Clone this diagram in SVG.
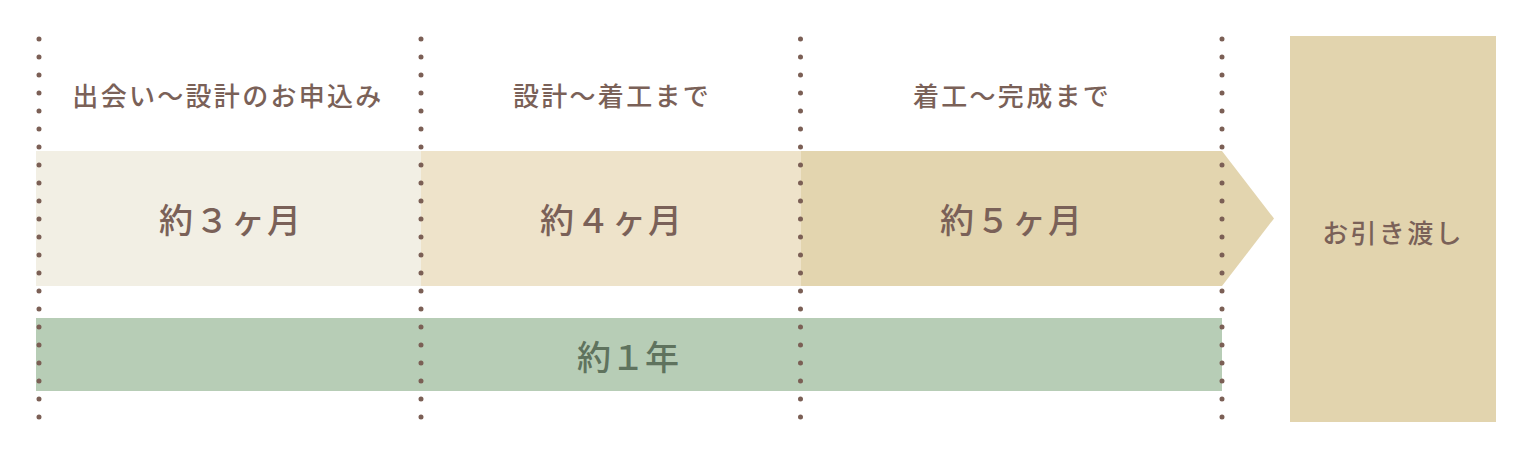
<svg xmlns="http://www.w3.org/2000/svg" width="1532" height="458" viewBox="0 0 1532 458">
  <style>
    .lbl { font-family: "Noto Sans CJK JP", "Noto Sans", sans-serif; font-size: 26px; font-weight: 500; fill: #7A6158; text-anchor: middle; letter-spacing: 2.3px; }
    .big { font-family: "Noto Sans CJK JP", "Noto Sans", sans-serif; font-size: 34px; font-weight: 500; fill: #7A6158; text-anchor: middle; letter-spacing: 2px; }
    .yr { font-family: "Noto Sans CJK JP", "Noto Sans", sans-serif; font-size: 34px; font-weight: 500; fill: #5F735E; text-anchor: middle; }
    .dots { stroke: #7B5F55; stroke-width: 5; stroke-linecap: round; stroke-dasharray: 0 18; fill: none; }
  </style>
  <rect width="1532" height="458" fill="#FFFFFF"/>

  <g id="phase1">
    <rect x="36" y="151" width="385" height="135" fill="#F2EFE4"/>
    <text class="lbl" x="228" y="106">出会い～設計のお申込み</text>
    <text class="big" x="231" y="233">約３ヶ月</text>
  </g>

  <g id="phase2">
    <rect x="421" y="151" width="380" height="135" fill="#EEE3CA"/>
    <text class="lbl" x="612" y="106">設計～着工まで</text>
    <text class="big" x="612" y="233">約４ヶ月</text>
  </g>

  <g id="phase3">
    <polygon points="801,151 1222,151 1274,218.5 1222,286 801,286" fill="#E3D5AF"/>
    <text class="lbl" x="1012" y="106">着工～完成まで</text>
    <text class="big" x="1012" y="233">約５ヶ月</text>
  </g>

  <g id="total">
    <rect x="36" y="318" width="1186" height="73" fill="#B7CDB6"/>
    <text class="yr" x="628" y="370">約１年</text>
  </g>

  <g id="handover">
    <rect x="1290" y="36" width="206" height="386" fill="#E2D4AE"/>
    <text class="lbl" x="1393" y="243">お引き渡し</text>
  </g>

  <g id="connectors">
    <line class="dots" x1="39" y1="39" x2="39" y2="420"/>
    <line class="dots" x1="421" y1="39" x2="421" y2="420"/>
    <line class="dots" x1="800.5" y1="39" x2="800.5" y2="420"/>
    <line class="dots" x1="1222" y1="39" x2="1222" y2="420"/>
  </g>
</svg>
